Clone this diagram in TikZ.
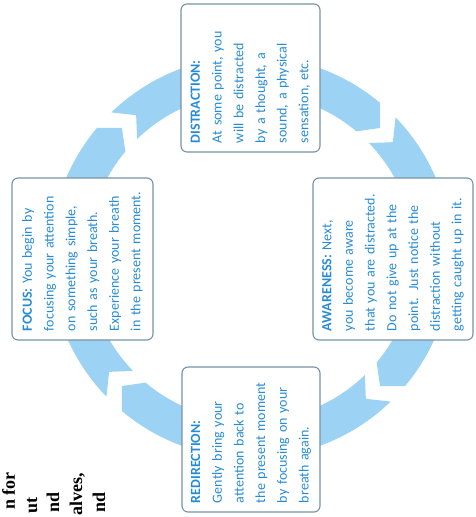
\documentclass[tikz,border=0pt]{standalone}
\usepackage{fontspec}
\setmainfont{Carlito}
\newfontfamily\pagefont{Liberation Serif}
\definecolor{ringblue}{RGB}{156,210,244}
\definecolor{textblue}{RGB}{40,140,212}
\definecolor{boxgray}{RGB}{118,146,164}
\tikzstyle{stage} = [draw=boxgray, line width=1.1pt, fill=white, rounded corners=6pt, rotate=90, align=left, inner xsep=9pt, text=textblue, font=\fontsize{14}{21.7}\selectfont]
\tikzstyle{ringpart} = [fill=ringblue]
\tikzstyle{pagetext} = [rotate=90, anchor=base east, inner sep=0pt, font=\pagefont\bfseries\fontsize{18}{24}\selectfont]

\begin{document}
\begin{tikzpicture}[x=1pt, y=-1pt]
  \useasboundingbox (0,0) rectangle (475,517);
  \begin{scope}[shift={(251,257)}]
    \coordinate (hub) at (0,0);
    \fill [ringpart] (136:201) arc [start angle=136, end angle=220, radius=201] -- (225:182.5) -- (220:164) arc [start angle=220, end angle=136, radius=164] -- (141:182.5) -- cycle;
    \fill [ringpart] (226:201) arc [start angle=226, end angle=310, radius=201] -- (315:182.5) -- (310:164) arc [start angle=310, end angle=226, radius=164] -- (231:182.5) -- cycle;
    \fill [ringpart] (316:201) arc [start angle=316, end angle=400, radius=201] -- (405:182.5) -- (400:164) arc [start angle=400, end angle=316, radius=164] -- (321:182.5) -- cycle;
    \fill [ringpart] (46:201) arc [start angle=46, end angle=130, radius=201] -- (135:182.5) -- (130:164) arc [start angle=130, end angle=46, radius=164] -- (51:182.5) -- cycle;
  \end{scope}
  \node [stage, text width=130pt, minimum width=148pt, minimum height=139pt] (distraction) at (250.5,78) {\textbf{DISTRACTION:}\\At some point, you\\will be distracted\\by a thought, a\\sound, a physical\\sensation, etc.};
  \node [stage, text width=144pt, minimum width=162pt, minimum height=160pt] (awareness) at (393,259) {\textbf{AWARENESS:} Next,\\you become aware\\that you are distracted.\\Do not give up at the\\point. Just notice the\\distraction without\\getting caught up in it.};
  \node [stage, text width=127pt, minimum width=145pt, minimum height=138pt] (redirection) at (251,439.5) {\textbf{REDIRECTION:}\\Gently bring your\\attention back to\\the present moment\\by focusing on your\\breath again.};
  \node [stage, text width=144pt, minimum width=162pt, minimum height=141pt] (focus) at (82.5,259) {\textbf{FOCUS:} You begin by\\focusing your attention\\on something simple,\\such as your breath.\\Experience your breath\\in the present moment.};
  \node [pagetext] (line1) at (15,472) {n for};
  \node [pagetext] (line2) at (37,497) {ut};
  \node [pagetext] (line3) at (59,492) {nd};
  \node [pagetext] (line4) at (82,473) {alves,};
  \node [pagetext] (line5) at (105,492) {nd};
\end{tikzpicture}
\end{document}
